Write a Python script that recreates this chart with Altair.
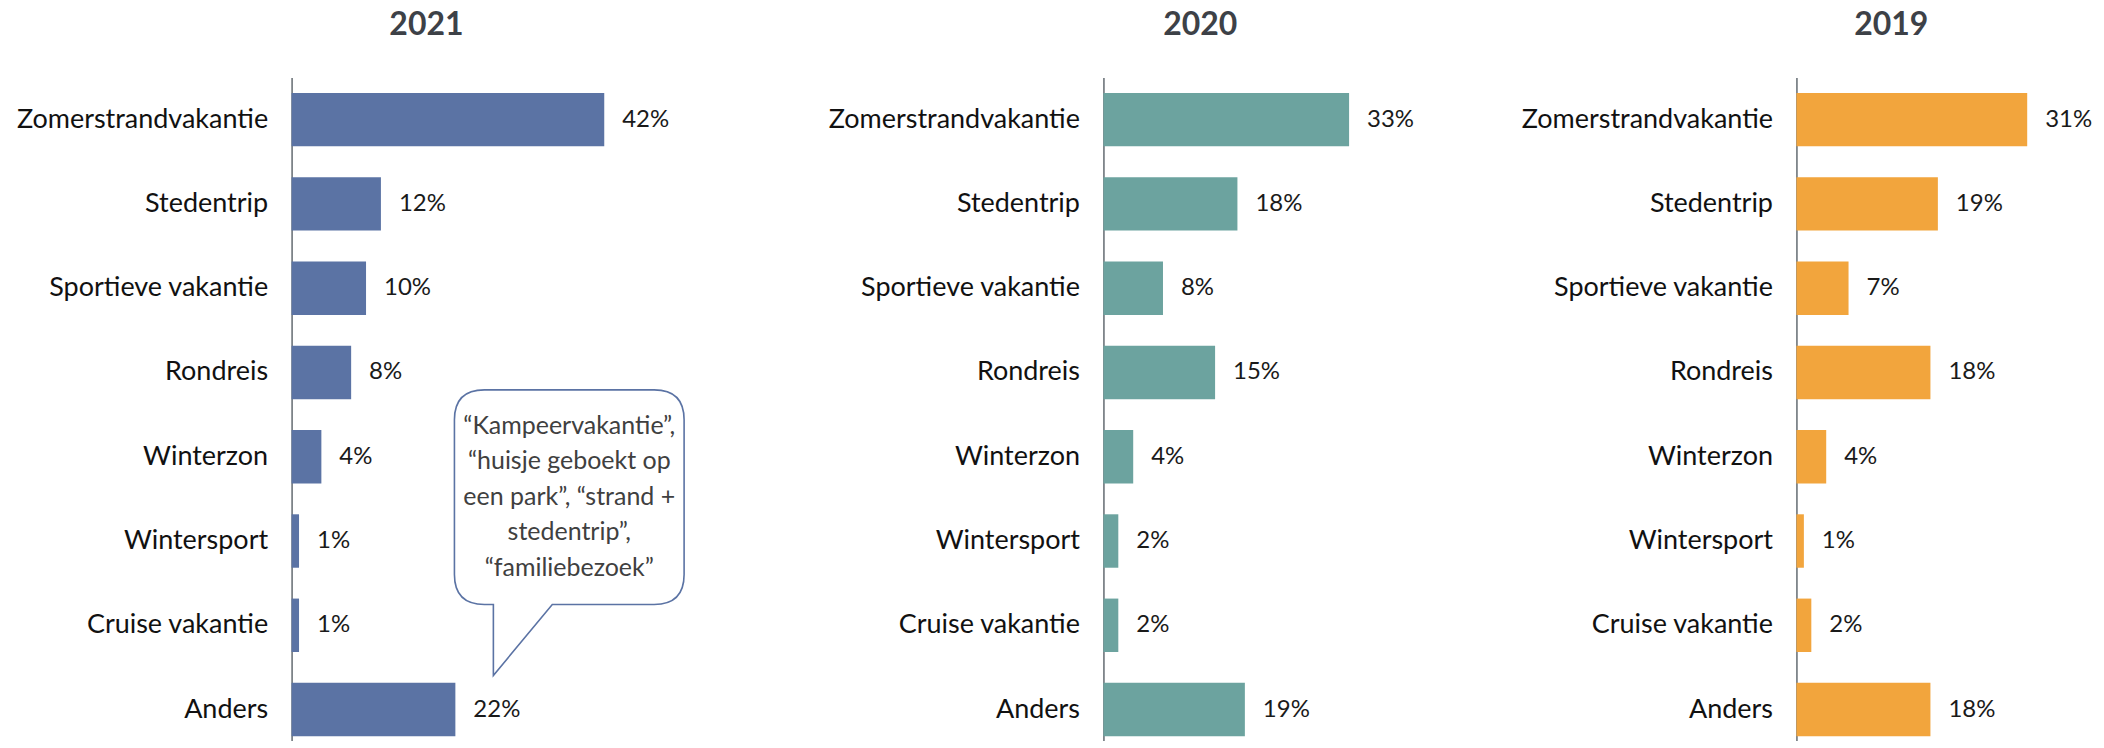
import altair as alt
import pandas as pd

categories = ["Zomerstrandvakantie", "Stedentrip", "Sportieve vakantie", "Rondreis",
              "Winterzon", "Wintersport", "Cruise vakantie", "Anders"]
years = ["2021", "2020", "2019"]
values_2021 = [42, 12, 10, 8, 4, 1, 1, 22]
values_2020 = [33, 18, 8, 15, 4, 2, 2, 19]
values_2019 = [31, 19, 7, 18, 4, 1, 2, 18]
colors = ["#5B73A4", "#6CA39F", "#F2A53D"]
callout_lines = ["“Kampeervakantie”,", "“huisje geboekt op", "een park”, “strand +",
                 "stedentrip”,", "“familiebezoek”"]

series = [values_2021, values_2020, values_2019]
widths = [527, 408, 300]
px_per_pct = 7.455
title_dx = [135, 97, 95]
H = 664

BUBBLE = ("M -0.85 -0.67 L 0.85 -0.67 Q 1.15 -0.67 1.15 -0.37 L 1.15 1.18 "
          "Q 1.15 1.48 0.85 1.48 L -0.17 1.48 L -0.76 2.19 L -0.76 1.48 L -0.85 1.48 "
          "Q -1.15 1.48 -1.15 1.18 L -1.15 -0.37 Q -1.15 -0.67 -0.85 -0.67 Z")

panels = []
for i, (yr, vals, col, w, tdx) in enumerate(zip(years, series, colors, widths, title_dx)):
    df = pd.DataFrame({"cat": categories, "value": vals})
    xs = alt.Scale(domain=[0, w / px_per_pct], nice=False, zero=True)
    ys = alt.Scale(paddingInner=0.366, paddingOuter=0.1166, align=0.787)
    yenc = alt.Y("cat:N", sort=categories, scale=ys,
                 axis=alt.Axis(title=None, labelFont="Lato", labelFontSize=27,
                               labelColor="#111111", labelPadding=24, ticks=False,
                               tickSize=0, labelLimit=0, domainColor="#6d747a",
                               domainWidth=1.6, grid=False, minExtent=272,
                               maxExtent=272))
    base = alt.Chart(df)
    bars = base.mark_bar(color=col).encode(
        x=alt.X("value:Q", scale=xs, axis=None), y=yenc)
    labels = base.mark_text(align="left", baseline="middle", dx=18, font="Lato",
                            fontSize=24, color="#1a1a1a").transform_calculate(
        lab="format(datum.value, '.0f') + '%'").encode(
        x=alt.X("value:Q", scale=xs, axis=None), y=yenc, text="lab:N")
    layers = [bars, labels]
    if i == 0:
        cdf = pd.DataFrame({"cat": ["Winterzon"], "value": [37.3],
                            "txt": ["\n".join(callout_lines)]})
        cb = alt.Chart(cdf)
        bubble = cb.mark_point(shape=BUBBLE, size=40000, filled=True, fill="white",
                               fillOpacity=1, stroke="#5B73A4", strokeWidth=1.6,
                               strokeOpacity=1, opacity=1).encode(
            x=alt.X("value:Q", scale=xs, axis=None), y=yenc)
        btext = cb.mark_text(lineBreak="\n", lineHeight=35.5, align="center",
                             baseline="middle", dy=-31, font="Lato", fontSize=25,
                             color="#404040").encode(
            x=alt.X("value:Q", scale=xs, axis=None), y=yenc, text="txt:N")
        layers += [bubble, btext]
    panel = alt.layer(*layers).properties(
        width=w, height=H,
        title=alt.TitleParams(text=yr, anchor="start", frame="group", align="center",
                              dx=tdx, font="Lato", fontSize=32, fontWeight="bold",
                              color="#3d4147", baseline="top", offset=35))
    panels.append(panel)

chart = alt.hconcat(*panels, spacing=10).properties(
    padding={"left": 8, "top": 1, "right": 0, "bottom": 0}
).configure_view(stroke=None)

chart.save("out.html", embed_options={"renderer": "svg", "actions": False})
